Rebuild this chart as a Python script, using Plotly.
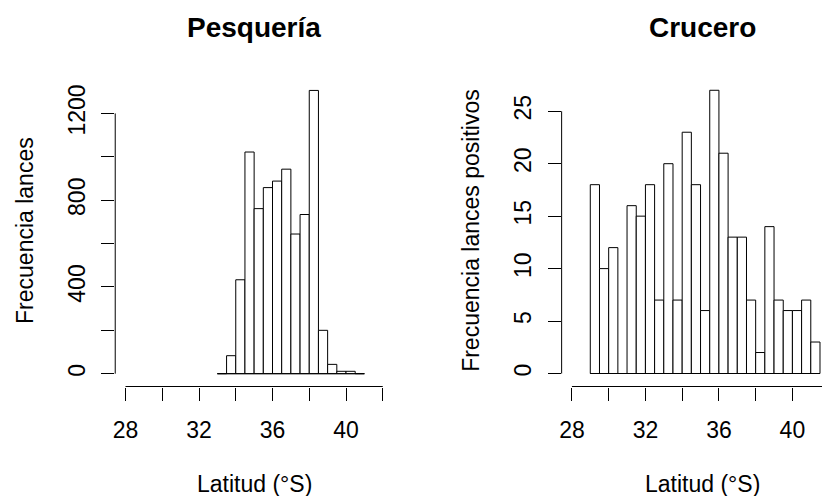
import plotly.graph_objects as go

# ---------------- data ----------------
bin_width = 0.5

pesq_left_edges = [33.0, 33.5, 34.0, 34.5, 35.0, 35.5, 36.0, 36.5,
                   37.0, 37.5, 38.0, 38.5, 39.0, 39.5, 40.0, 40.5]
pesq_counts = [0, 83, 433, 1022, 761, 858, 888, 943,
               644, 734, 1306, 200, 43, 11, 11, 0]

cruc_left_edges = [29.0, 29.5, 30.0, 30.5, 31.0, 31.5, 32.0, 32.5,
                   33.0, 33.5, 34.0, 34.5, 35.0, 35.5, 36.0, 36.5,
                   37.0, 37.5, 38.0, 38.5, 39.0, 39.5, 40.0, 40.5, 41.0]
cruc_counts = [18, 10, 12, 0, 16, 15, 18, 7, 20, 7, 23, 18, 6,
               27, 21, 13, 13, 7, 2, 14, 7, 6, 6, 7, 3]

x_tick_vals = [28, 30, 32, 34, 36, 38, 40, 42]
x_tick_text = ["28", "", "32", "", "36", "", "40", ""]

pesq_y_tick_vals = [0, 200, 400, 600, 800, 1000, 1200]
pesq_y_tick_text = ["0", "", "400", "", "800", "", "1200"]

cruc_y_tick_vals = [0, 5, 10, 15, 20, 25]
cruc_y_tick_text = ["0", "5", "10", "15", "20", "25"]

title_left = "Pesquería"
title_right = "Crucero"
xlab = "Latitud (°S)"
ylab_left = "Frecuencia lances"
ylab_right = "Frecuencia lances positivos"

# ---------------- layout geometry (pixels) ----------------
W, H = 822, 496
FONT = "Liberation Sans, Arial, Helvetica, sans-serif"
BASE = 23

def px_x(p):
    return p / W

def px_y(p):
    return 1 - p / H

y_dom = [px_y(386.5), px_y(70)]
xl_dom = [px_x(113.5), px_x(392.0)]
xr_dom = [px_x(561.0), 1.0]

x_scale = (392.0 - 113.5) / 15.12
xl_range = [27.44, 42.56]
xr_range = [27.44, 27.44 + (822 - 561.0) / x_scale]

# y ranges: data 0 sits at ~373.6px
pl_scale = 0.2169
pl_range = [-(386.5 - 373.7) / pl_scale, (373.7 - 70) / pl_scale]
cr_scale = 10.49
cr_range = [-(386.5 - 373.5) / cr_scale, (373.5 - 70) / cr_scale]

fig = go.Figure()

def add_hist(left_edges, counts, xa, ya):
    centers = [e + bin_width / 2 for e in left_edges]
    fig.add_trace(go.Bar(
        x=centers, y=counts, width=bin_width,
        marker=dict(color="white", line=dict(color="black", width=1)),
        xaxis=xa, yaxis=ya, hoverinfo="x+y"))
    fig.add_trace(go.Scatter(
        x=[left_edges[0], left_edges[-1] + bin_width], y=[0, 0],
        mode="lines", line=dict(color="black", width=1),
        xaxis=xa, yaxis=ya, hoverinfo="skip"))

add_hist(pesq_left_edges, pesq_counts, "x", "y")
add_hist(cruc_left_edges, cruc_counts, "x2", "y2")

axis_common = dict(
    showgrid=False, zeroline=False, showline=False,
    ticks="outside", ticklen=13, tickwidth=1, tickcolor="black",
    tickfont=dict(family=FONT, size=BASE, color="black"),
    tickmode="array",
)

fig.update_layout(
    width=W, height=H, autosize=False,
    margin=dict(l=0, r=0, t=0, b=0),
    paper_bgcolor="white", plot_bgcolor="white",
    showlegend=False, barmode="overlay",
    xaxis=dict(domain=xl_dom, range=xl_range, anchor="y",
               tickvals=x_tick_vals, ticktext=x_tick_text,
               ticklabelstandoff=10, **axis_common),
    yaxis=dict(domain=y_dom, range=pl_range, anchor="x",
               tickvals=pesq_y_tick_vals, ticktext=pesq_y_tick_text,
               tickangle=-90, ticklabelstandoff=7, **axis_common),
    xaxis2=dict(domain=xr_dom, range=xr_range, anchor="y2",
                tickvals=x_tick_vals, ticktext=x_tick_text,
                ticklabelstandoff=10, **axis_common),
    yaxis2=dict(domain=y_dom, range=cr_range, anchor="x2",
                tickvals=cruc_y_tick_vals, ticktext=cruc_y_tick_text,
                tickangle=-90, ticklabelstandoff=7, **axis_common),
)

# R-style axis lines spanning only the tick range
line_style = dict(color="black", width=1)
fig.add_shape(type="line", xref="x", yref="paper",
              x0=x_tick_vals[0], x1=x_tick_vals[-1], y0=y_dom[0], y1=y_dom[0], line=line_style)
fig.add_shape(type="line", xref="paper", yref="y",
              x0=xl_dom[0], x1=xl_dom[0], y0=pesq_y_tick_vals[0], y1=pesq_y_tick_vals[-1], line=line_style)
fig.add_shape(type="line", xref="x2", yref="paper",
              x0=x_tick_vals[0], x1=x_tick_vals[-1], y0=y_dom[0], y1=y_dom[0], line=line_style)
fig.add_shape(type="line", xref="paper", yref="y2",
              x0=xr_dom[0], x1=xr_dom[0], y0=cruc_y_tick_vals[0], y1=cruc_y_tick_vals[-1], line=line_style)

left_center = px_x((113.5 + 392.0) / 2)
right_center = px_x((561.0 + 843.0) / 2)

def ann(text, x, y, size, bold=False, angle=0):
    fig.add_annotation(
        text=f"<b>{text}</b>" if bold else text,
        x=x, y=y, xref="paper", yref="paper",
        xanchor="center", yanchor="middle", showarrow=False,
        textangle=angle,
        font=dict(family=FONT, size=size, color="black"))

ann(title_left, left_center, px_y(27), 28, bold=True)
ann(title_right, right_center, px_y(27), 28, bold=True)
ann(xlab, left_center, px_y(484), BASE)
ann(xlab, right_center, px_y(484), BASE)
ann(ylab_left, px_x(23), px_y(230), BASE, angle=-90)
ann(ylab_right, px_x(470), px_y(230), BASE, angle=-90)

fig.write_html(
    "out.html",
    config={"displayModeBar": False, "staticPlot": True},
    post_script="document.body.style.margin='0';document.body.style.overflow='hidden';",
)
